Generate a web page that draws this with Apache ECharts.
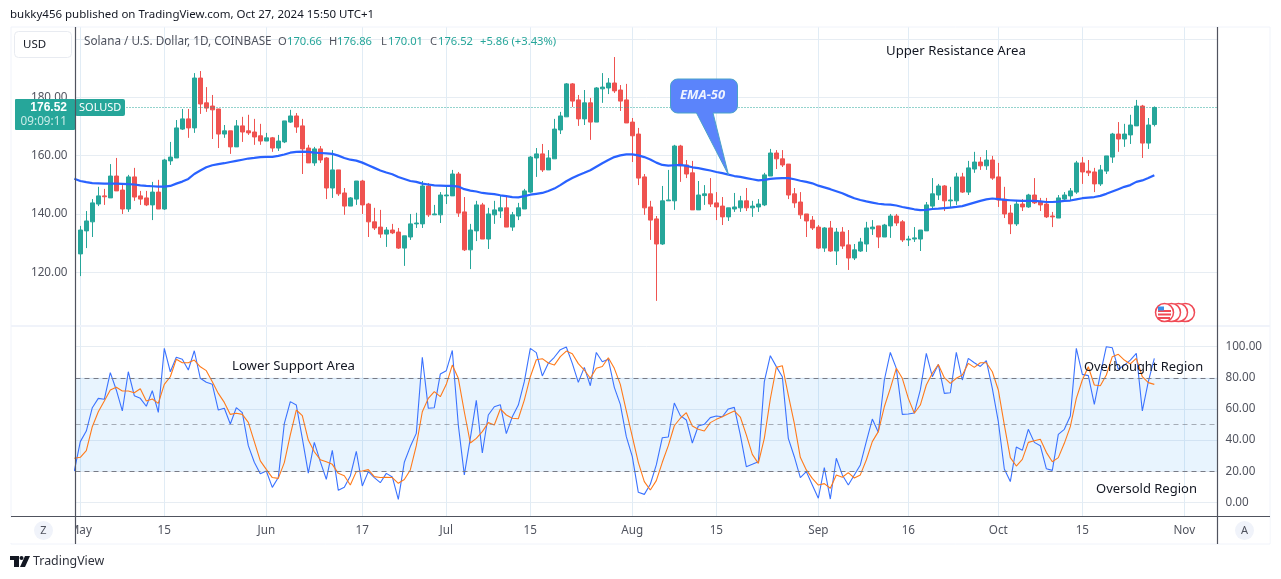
<!DOCTYPE html>
<html><head><meta charset="utf-8">
<style>html,body{margin:0;padding:0;background:#fff}#c{width:1281px;height:579px}</style>
<script src="https://cdn.jsdelivr.net/npm/echarts@6/dist/echarts.min.js"></script>
</head><body><div id="c"></div>
<script>
const tickDays=[0,14,31,47,61,75,92,106,123,138,153,167,184];
const tickLabels=['May','15','Jun','17','Jul','15','Aug','15','Sep','16','Oct','15','Nov'];
const priceTicks=[120,140,160,180,200];
const oscTicks=[0,20,40,60,80,100];
const lastPrice=176.52;
const opens=[126.3,134.2,137.3,143.4,146.2,145.5,153.0,148.2,141.7,152.7,
146.2,145.5,143.1,147.5,141.7,158.2,159.2,169.1,172.6,169.5,
186.6,178.1,177.0,176.0,167.4,168.5,163.0,170.2,168.5,168.1,
166.8,165.0,166.1,162.6,164.7,171.5,173.6,170.2,162.6,157.5,
162.3,159.2,148.9,155.1,147.2,142.7,145.1,151.3,143.4,137.3,
135.5,133.1,134.5,133.8,128.3,132.1,136.6,136.6,149.6,139.7,
139.7,146.2,146.2,153.7,140.7,127.7,134.2,143.1,131.4,139.7,
141.0,142.1,135.5,139.3,141.7,147.5,159.2,160.6,155.1,158.9,
168.8,173.3,184.6,179.1,172.6,178.1,171.5,182.9,183.2,184.9,
182.5,179.1,171.5,167.4,152.7,142.4,138.3,129.7,144.5,144.5,
163.3,156.8,154.1,141.4,146.3,146.9,143.8,142.7,139.0,141.7,
142.1,144.5,142.1,142.4,143.1,153.0,160.9,158.9,157.1,146.9,
144.1,140.0,137.9,135.5,128.3,135.2,127.3,133.8,129.4,124.9,
127.3,129.7,134.9,135.9,132.1,135.9,139.3,137.3,131.1,131.4,
131.4,134.2,142.7,146.5,149.6,144.5,144.5,152.7,147.5,155.4,
157.8,156.5,158.5,152.7,145.1,140.3,136.6,143.4,142.4,146.5,
144.1,143.4,139.3,138.6,145.1,146.2,147.5,157.5,154.7,154.4,
150.3,154.7,159.5,167.4,165.7,167.1,170.2,177.0,164.3,170.66];
const closes=[134.5,137.6,143.8,146.2,145.9,153.0,147.9,141.7,152.7,145.8,
145.1,143.1,147.5,141.7,158.5,159.5,169.5,172.6,169.5,186.6,
177.7,176.3,175.7,167.4,168.5,163.0,170.2,168.1,167.8,166.4,
165.0,166.1,162.6,165.0,171.9,173.6,169.8,162.3,157.5,162.3,
158.5,148.9,155.1,146.9,142.7,145.5,151.3,143.1,137.3,135.2,
133.1,134.5,133.5,128.3,132.5,136.6,136.9,149.6,139.7,140.0,
146.5,146.5,153.7,140.3,127.7,134.5,143.1,131.4,140.0,141.4,
142.1,135.5,139.7,142.1,147.9,159.5,160.6,155.1,159.2,169.1,
173.6,184.6,178.7,172.6,178.1,171.5,183.2,183.5,184.9,182.2,
178.7,171.2,166.8,152.3,142.1,137.9,129.7,144.5,144.8,163.3,
156.5,153.7,141.4,146.5,146.9,143.4,142.4,139.0,142.1,142.4,
144.5,142.1,142.7,143.4,153.4,160.9,158.9,156.8,146.5,143.8,
139.7,137.6,135.2,128.3,135.2,127.3,133.8,129.0,124.9,127.7,
130.4,135.2,135.5,132.1,136.2,139.3,136.9,131.1,131.4,131.8,
134.5,143.1,146.9,149.6,144.5,144.8,152.7,147.5,155.8,157.8,
156.5,158.5,152.3,144.8,140.0,136.6,143.4,142.4,146.5,143.8,
143.1,139.0,139.0,145.5,146.5,147.9,157.5,154.4,154.1,150.3,
155.1,159.9,167.4,165.7,167.4,170.5,177.0,164.3,170.5,176.52];
const lows=[118.7,128.3,132.1,142.7,143.1,145.5,147.9,140.0,140.7,144.5,
143.1,142.7,137.9,141.7,141.4,156.8,159.2,168.8,166.1,167.8,
174.3,175.0,165.7,162.6,166.1,160.6,163.0,164.7,167.1,163.7,
163.7,165.0,161.3,161.6,164.3,171.2,167.8,153.7,157.5,156.5,
157.5,145.1,145.5,146.2,139.7,142.7,143.1,140.0,132.1,134.5,
131.8,128.7,133.1,128.0,122.2,131.1,135.2,135.2,139.0,139.7,
136.9,143.4,146.2,139.0,127.3,121.1,130.7,131.4,128.0,136.6,
138.6,135.5,134.2,137.9,141.7,147.2,152.7,154.4,155.1,158.9,
167.4,173.3,176.7,170.2,170.5,165.4,171.5,178.1,181.1,181.5,
175.3,171.2,157.8,149.9,139.7,131.1,110.2,129.4,144.5,141.4,
151.0,152.3,141.4,141.4,143.1,142.4,137.9,136.2,137.6,140.7,
140.7,141.0,139.0,140.7,142.7,153.0,155.4,156.1,145.1,142.1,
138.3,132.1,134.5,128.0,127.0,127.0,122.5,128.0,120.8,124.2,
127.0,127.0,132.8,128.3,132.1,131.8,135.9,130.4,129.0,130.4,
127.3,134.2,141.4,144.8,141.0,142.4,143.1,147.2,146.5,154.1,
155.1,155.1,151.7,142.4,138.6,133.1,135.9,141.0,142.1,143.4,
141.0,138.6,135.5,138.6,144.5,144.5,146.9,150.3,153.0,147.5,
149.6,153.7,157.5,161.3,163.0,164.0,170.2,159.2,162.3,170.01];
const highs=[135.9,141.0,145.1,149.3,148.6,157.1,159.2,149.9,153.4,155.8,
147.9,147.9,151.0,151.7,158.9,164.7,172.2,176.0,176.0,188.3,
189.0,183.5,180.8,176.0,170.5,168.5,172.2,173.3,174.0,172.6,
170.9,167.8,166.4,167.1,171.9,175.7,174.6,172.6,163.7,163.0,
163.3,159.5,161.9,155.1,148.9,145.8,151.3,151.7,143.8,142.1,
141.4,135.5,136.6,135.2,132.5,140.0,140.4,151.3,150.6,143.1,
147.5,149.6,155.1,154.4,145.8,136.6,144.5,143.8,142.1,144.5,
146.5,146.2,140.7,143.8,148.6,159.9,162.6,164.0,161.9,172.6,
175.0,184.9,184.9,180.8,182.5,179.8,183.5,188.3,186.6,193.8,
184.2,184.6,172.9,169.5,153.7,144.5,139.3,149.6,155.1,163.7,
163.7,158.5,158.2,151.3,149.9,152.3,147.5,145.8,142.1,147.2,
146.2,148.9,144.5,145.1,154.1,162.3,161.9,161.9,157.1,148.9,
147.5,140.0,139.3,136.2,135.5,137.6,135.2,135.5,134.5,129.7,
131.8,137.3,137.9,135.9,136.6,140.0,140.0,137.9,132.5,135.5,
134.5,144.1,152.3,150.3,149.9,149.3,154.1,154.1,158.2,161.3,
159.5,161.9,159.9,157.5,149.3,143.1,144.8,145.1,146.9,152.3,
145.5,145.5,140.7,146.5,147.5,148.9,158.2,159.5,158.5,155.8,
156.8,159.9,167.8,171.5,170.9,174.0,179.1,177.4,172.9,176.86];
// these three start one day before the first candle
const ema50=[152.1,151.3,150.9,150.6,150.5,150.4,150.4,150.4,150.3,150.2,150.1,
149.8,149.6,149.5,149.4,149.4,149.6,150.4,151.1,152.0,153.7,
154.9,156.0,156.7,157.1,157.4,157.8,158.2,158.6,159.0,159.2,
159.5,159.6,159.6,159.9,160.4,161.0,161.3,161.4,161.3,161.0,
160.9,160.8,160.6,160.0,159.2,158.6,158.3,157.6,156.7,155.8,
154.9,154.2,153.6,152.7,152.0,151.3,151.0,150.4,150.1,149.8,
149.7,149.6,149.6,149.4,148.5,148.0,147.7,147.2,147.0,146.8,
146.4,146.1,145.8,145.7,146.1,146.6,146.9,147.2,147.9,148.7,
149.9,151.2,152.3,153.3,154.1,155.0,156.2,157.4,158.5,159.5,
160.1,160.4,160.4,160.1,159.5,158.7,157.6,156.8,156.6,156.7,
156.8,156.5,156.0,155.7,155.3,154.9,154.4,154.0,153.5,153.0,
152.7,152.3,151.9,151.5,151.7,152.0,152.2,152.3,152.3,151.9,
151.4,151.0,150.5,149.7,149.1,148.5,147.8,147.1,146.2,145.4,
144.8,144.3,143.9,143.5,143.3,143.2,142.9,142.4,142.0,141.6,
141.3,141.4,141.7,141.8,142.0,142.2,142.4,142.7,143.3,143.9,
144.5,145.0,145.3,145.1,144.8,144.7,144.6,144.5,144.5,144.5,
144.3,144.1,144.1,144.2,144.5,144.6,145.0,145.4,145.6,145.8,
146.2,146.9,147.7,148.5,149.3,149.9,151.0,151.5,152.3,153.3];
const stochK=[20.1,39.0,45.8,60.8,66.8,66.2,83.3,72.2,58.7,83.9,68.5,
66.8,61.7,71.7,57.8,98.9,83.9,93.2,91.9,85.0,97.4,
79.7,77.1,75.8,59.3,60.4,50.3,60.8,57.6,36.4,25.7,
18.4,20.1,9.6,15.9,50.5,64.7,62.5,41.1,18.8,38.5,
26.1,14.8,33.4,7.7,9.6,16.9,32.8,10.5,19.7,15.9,
12.6,18.6,16.3,1.9,25.7,35.8,44.3,93.2,60.4,60.8,
82.4,84.6,97.6,49.7,17.6,41.1,65.5,31.7,56.1,61.4,
62.7,44.1,55.0,62.5,77.5,98.9,96.2,81.2,89.3,93.2,
98.1,99.8,89.3,77.1,86.7,74.9,96.3,90.3,91.9,73.9,
62.9,42.2,29.3,6.4,5.1,11.6,24.0,41.5,42.0,63.8,
55.7,52.9,38.1,49.0,50.1,54.4,55.5,55.0,60.0,61.0,
43.3,22.9,24.4,26.1,77.5,94.2,87.2,80.7,41.1,29.3,
15.9,19.7,11.1,2.6,22.3,2.1,28.3,17.6,11.1,17.6,
24.0,39.0,53.5,45.0,78.6,96.3,86.1,56.5,56.7,57.4,
72.2,95.7,80.7,88.6,70.0,70.4,96.3,78.6,92.5,89.7,
87.3,91.0,73.2,51.8,21.4,13.3,35.5,33.4,46.9,38.5,
36.4,21.6,20.5,43.7,46.9,55.4,98.9,82.2,81.4,63.0,
82.2,100,99.3,85.4,88.2,91.4,95.7,58.7,77.5,92.5];
const stochD=[28.3,28.9,33.2,48.6,58.2,65.1,72.2,73.9,71.5,71.5,70.4,
73.0,65.1,66.4,63.6,75.8,80.7,91.9,89.7,89.7,91.4,
87.1,84.6,77.5,70.0,64.2,56.5,57.2,56.5,51.4,39.0,
26.6,21.2,15.9,15.4,25.5,43.3,59.3,55.7,40.0,32.5,
27.4,26.1,24.4,18.6,17.1,11.1,19.7,20.1,21.0,16.5,
15.9,16.1,15.9,12.2,14.6,20.8,36.4,58.2,66.8,71.1,
67.9,75.8,88.2,79.7,58.2,38.1,41.1,45.4,51.2,49.7,
60.0,56.1,54.0,53.7,65.7,80.7,91.6,92.3,89.5,88.2,
93.6,97.2,95.5,89.1,85.0,79.7,86.1,87.3,92.9,86.1,
75.8,58.7,42.2,25.7,13.3,7.9,13.9,25.7,36.4,49.2,
54.0,57.6,49.0,46.9,45.8,51.2,53.3,55.0,56.9,58.7,
54.8,43.3,30.8,25.0,41.1,66.4,86.7,87.8,68.9,50.7,
28.9,20.8,15.4,11.1,12.0,9.0,17.6,16.1,19.1,15.6,
17.6,27.2,39.0,45.4,61.4,73.2,86.1,79.7,66.8,57.2,
62.5,75.4,82.9,88.6,80.1,76.4,79.7,81.8,89.3,86.7,
89.7,89.7,83.9,72.2,49.7,28.7,23.3,27.6,38.5,39.6,
40.5,32.1,26.1,28.7,37.9,48.6,66.8,78.6,87.1,75.4,
74.9,81.8,93.6,95.1,91.4,88.9,92.5,80.7,76.9,75.8];

const FONT='"Noto Sans", sans-serif';
const UP='#26a69a',DOWN='#ef5350',INK='#131722',GREY='#50535e',FRAME='#f0f3fa',AXIS='#50535e';
const GRIDH='#e7edf3',GRIDV='#e1ecf5';
const candles=opens.map((o,i)=>[i,o,closes[i],lows[i],highs[i]]);
const offset=a=>a.map((v,i)=>[i-1,v]);

function txt(x,y,s,fill,size,extra){return {type:'text',z:106,silent:true,x,y,
  style:Object.assign({text:s,fill,font:(size||11.5)+'px '+FONT,textVerticalAlign:'middle',textAlign:'left',verticalAlign:'middle',align:'left'},extra||{})};}
function rect(x,y,w,h,fill,r,stroke,z){return {type:'rect',z:z||99,silent:true,shape:{x,y,width:w,height:h,r:r||0},style:{fill,stroke:stroke||null,lineWidth:stroke?1:0}};}
function vline(x,y1,y2,c,w,z){return {type:'line',z:z||101,silent:true,shape:{x1:x,y1,x2:x,y2},style:{stroke:c,lineWidth:w}};}
function hline(x1,x2,y,c,w,z){return {type:'line',z:z||101,silent:true,shape:{x1,y1:y,x2,y2:y},style:{stroke:c,lineWidth:w}};}
function badge(cx){return {type:'circle',z:102,silent:true,shape:{cx,cy:312.5,r:9},style:{fill:'#fff',stroke:'#f04a56',lineWidth:1.5}};}
function calloutPts(x,y,w,h,r,tail){
  const pts=[];
  const arc=(cx,cy,a0)=>{for(let k=0;k<=4;k++){const a=a0+k*Math.PI/8;pts.push([cx+r*Math.cos(a),cy+r*Math.sin(a)]);}};
  arc(x+r,y+r,Math.PI);arc(x+w-r,y+r,-Math.PI/2);arc(x+w-r,y+h-r,0);
  tail.forEach(p=>pts.push(p));
  arc(x+r,y+h-r,Math.PI/2);
  return pts;
}
const graphics=[
  // chrome
  rect(11,27,1259,517,'rgba(0,0,0,0)',0,FRAME,98),
  rect(10,518,65,25,'#fff',0,null,99),
  rect(1218.5,518,51,25,'#fff',0,null,99),
  hline(11,1270,326,FRAME,2,97),
  hline(11,1270,516.5,AXIS,1.2),
  vline(75.5,27,544,AXIS,1.2),
  vline(1217.5,27,544,AXIS,1.2),
  {type:'circle',z:102,silent:true,shape:{cx:43.5,cy:530.5,r:9.5},style:{fill:FRAME}},
  txt(43.5,530.5,'Z',GREY,11,{align:'center',textAlign:'center'}),
  {type:'circle',z:102,silent:true,shape:{cx:1244.5,cy:530.5,r:9.5},style:{fill:FRAME}},
  txt(1244.5,530.5,'A',GREY,11,{align:'center',textAlign:'center'}),
  // headers
  txt(10,15,'bukky456 published on TradingView.com, Oct 27, 2024 15:50 UTC+1',INK,11.5),
  rect(14.5,31.5,57,26,'#fff',4,'#e8ebf1'),
  txt(23,44.5,'USD',INK,11.5),
  txt(84,42,'Solana / U.S. Dollar, 1D, COINBASE',GREY,11.75),
  txt(278,42,'O',GREY,11.2),txt(287,42,'170.66',UP,11.2),
  txt(329,42,'H',GREY,11.2),txt(337,42,'176.86',UP,11.2),
  txt(381,42,'L',GREY,11.2),txt(388,42,'170.01',UP,11.2),
  txt(430,42,'C',GREY,11.2),txt(438,42,'176.52',UP,11.2),
  txt(480,42,'+5.86 (+3.43%)',UP,11.2),
  // price tag
  rect(15,99,60,31,UP,1,null,99),
  rect(75,99,50,17,UP,2,null,99),
  txt(67,107.5,'176.52','#fff',11.7,{align:'right',textAlign:'right',fontWeight:600}),
  txt(67,122,'09:09:11','#c9ece8',11.7,{align:'right',textAlign:'right'}),
  txt(79,107.5,'SOLUSD','#fff',11),
  // annotations
  txt(886,51,'Upper Resistance Area',INK,13.2),
  txt(232,366,'Lower Support Area',INK,13.2),
  txt(1084,367,'Overbought Region',INK,12.9),
  txt(1096,489,'Oversold Region',INK,13),
  {type:'polygon',z:103,silent:true,shape:{points:calloutPts(670.5,79,67,34,7,[[713,113],[728.5,175],[696.5,113]])},style:{fill:'#5b84fb',stroke:'#4aa3c9',lineWidth:1}},
  txt(680,95,'EMA-50','#eef3ff',13,{font:'italic 700 13px '+FONT}),
  // event badges
  badge(1185.5),badge(1178.5),badge(1171.5),badge(1164.5),
  rect(1158,310,13,2,'#f04a56',0,null,103),
  rect(1158,313.5,13,2,'#f04a56',0,null,103),
  rect(1158,317,12,2,'#f04a56',0,null,103),
  rect(1158,306.5,6,4,'#3d8fe8',0,null,104),
  // logo
  {type:'polygon',z:100,silent:true,shape:{points:[[10,556],[19,556],[19,567],[14,567],[14,560],[10,560]]},style:{fill:INK}},
  {type:'circle',z:100,silent:true,shape:{cx:21.5,cy:558,r:2},style:{fill:INK}},
  {type:'polygon',z:100,silent:true,shape:{points:[[25,556],[30,556],[25,567],[20,567]]},style:{fill:INK}},
  txt(33,561.5,'TradingView','#2f323c',12.4)
];

const xBase={type:'value',min:-0.8,max:189.53,axisLine:{show:false},
  axisTick:{show:false,customValues:tickDays},splitLine:{show:true,lineStyle:{color:GRIDV,width:1}}};
const option={
  animation:false,backgroundColor:'#fff',
  graphic:{elements:graphics},
  grid:[{left:75.5,right:63.5,top:27,height:298},{left:75.5,right:63.5,top:327,height:189.3}],
  xAxis:[
    Object.assign({},xBase,{gridIndex:0,axisLabel:{show:false,customValues:tickDays}}),
    Object.assign({},xBase,{gridIndex:1,axisLabel:{show:true,customValues:tickDays,
      formatter:v=>tickLabels[tickDays.indexOf(v)],color:GREY,fontFamily:FONT,fontSize:11.7,margin:8,hideOverlap:false,showMinLabel:true,showMaxLabel:true}})
  ],
  yAxis:[
    {type:'value',gridIndex:0,position:'left',min:101.93,max:204.1,scale:true,axisLine:{show:false},
     axisTick:{show:false,customValues:priceTicks},
     axisLabel:{customValues:priceTicks.slice(0,4),formatter:v=>v.toFixed(2),color:GREY,fontFamily:FONT,fontSize:11.7,margin:8},
     splitLine:{show:true,lineStyle:{color:GRIDH,width:1}}},
    {type:'value',gridIndex:1,position:'right',min:-9,max:112.66,axisLine:{show:false},
     axisTick:{show:false,customValues:oscTicks},
     axisLabel:{customValues:oscTicks,formatter:v=>v.toFixed(2),color:GREY,fontFamily:FONT,fontSize:11.7,margin:8},
     splitLine:{show:true,lineStyle:{color:GRIDH,width:1}}}
  ],
  series:[
    {type:'candlestick',name:'SOLUSD',xAxisIndex:0,yAxisIndex:0,barWidth:5,data:candles,silent:true,
     itemStyle:{color:UP,color0:DOWN,borderColor:UP,borderColor0:DOWN,borderWidth:1}},
    {type:'line',name:'EMA-50',xAxisIndex:0,yAxisIndex:0,data:offset(ema50),showSymbol:false,smooth:false,
     lineStyle:{color:'#2962ff',width:2.2},itemStyle:{color:'#2962ff'},silent:true,z:3,
     markLine:{silent:true,symbol:'none',animation:false,label:{show:false},
       data:[{yAxis:lastPrice,lineStyle:{type:[1,2],color:'#26a69a',width:1,opacity:1}}]}},
    {type:'line',name:'%K',xAxisIndex:1,yAxisIndex:1,data:offset(stochK),showSymbol:false,
     lineStyle:{color:'#3a72ff',width:1.1},silent:true,
     markArea:{silent:true,itemStyle:{color:'rgba(33,150,243,0.1)'},data:[[{yAxis:20},{yAxis:80}]]}},
    {type:'line',name:'%D',xAxisIndex:1,yAxisIndex:1,data:offset(stochD),showSymbol:false,
     lineStyle:{color:'#ff7a1a',width:1.1},silent:true,
     markLine:{silent:true,symbol:'none',animation:false,label:{show:false},precision:2,
       data:[
         {yAxis:80,lineStyle:{type:[5,4],color:'#787b86',width:1}},
         {yAxis:50,lineStyle:{type:[5,4],color:'rgba(120,123,134,0.6)',width:1}},
         {yAxis:20,lineStyle:{type:[5,4],color:'#787b86',width:1}}
       ]}}
  ]
};
const chart=echarts.init(document.getElementById('c'),null,{renderer:'canvas',width:1281,height:579});
chart.setOption(option);
</script></body></html>
